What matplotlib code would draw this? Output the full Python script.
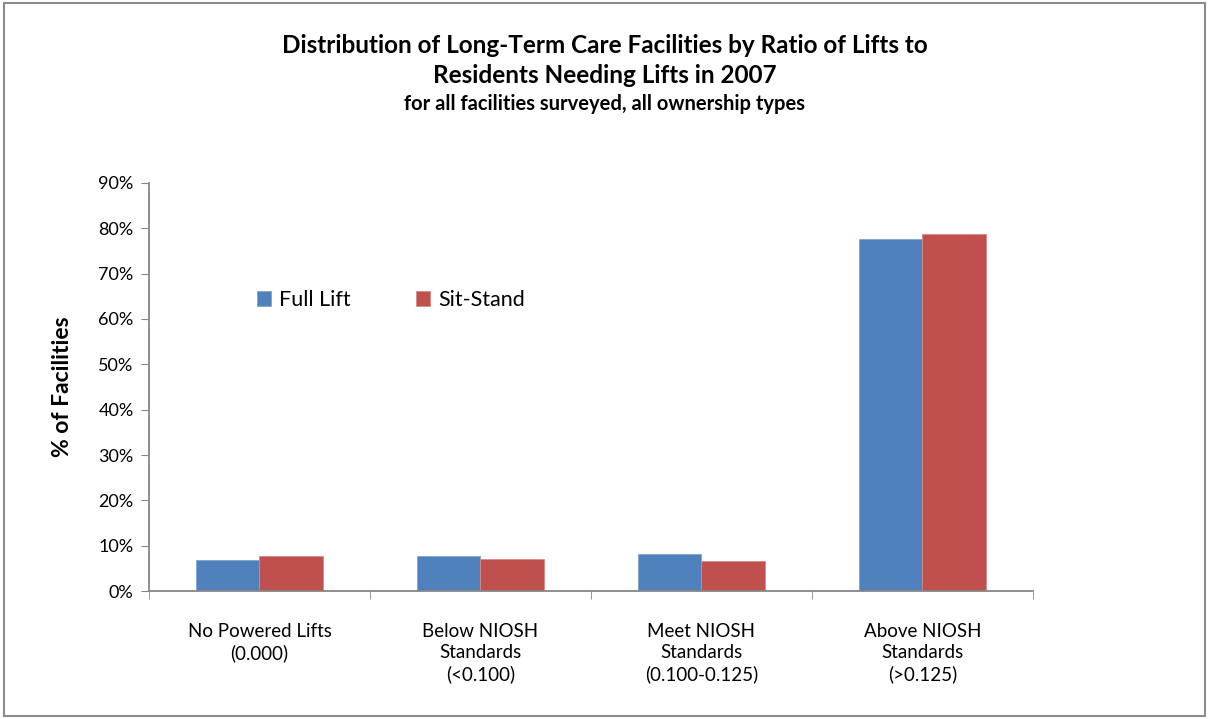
import numpy as np
import matplotlib
matplotlib.use('Agg')
import matplotlib.pyplot as plt
import matplotlib.patches as patches
from matplotlib.ticker import FuncFormatter, FixedLocator

categories = ['No Powered Lifts\n(0.000)', 'Below NIOSH\nStandards\n(<0.100)',
              'Meet NIOSH\nStandards\n(0.100-0.125)', 'Above NIOSH\nStandards\n(>0.125)']
full_lift = [6.8, 7.7, 8.2, 77.6]
sit_stand = [7.7, 7.1, 6.6, 78.7]

plt.rcParams['font.family'] = ['Lato', 'DejaVu Sans']

fig = plt.figure(figsize=(12.09, 7.19), dpi=100)
ax = fig.add_axes([0.1232, 0.178, 0.7312, 0.5675])

x = np.arange(len(categories))
w = 0.2857
ax.bar(x - w/2, full_lift, w, color='#4F81BD', edgecolor='#7FA3D0', linewidth=0.6, label='Full Lift')
ax.bar(x + w/2, sit_stand, w, color='#C0504D', edgecolor='#D68A88', linewidth=0.6, label='Sit-Stand')

ax.set_xlim(-0.5, len(categories) - 0.5)
ax.set_ylim(0, 90)
ax.set_yticks(np.arange(0, 91, 10))
ax.yaxis.set_major_formatter(FuncFormatter(lambda v, p: '%d%%' % v))
ax.set_xticks(x)
ax.set_xticklabels(categories, fontsize=13.5, linespacing=1.3)
ax.xaxis.set_minor_locator(FixedLocator(np.arange(-0.5, len(categories), 1.0)))
ax.tick_params(axis='x', which='major', length=0, pad=23)
ax.tick_params(axis='x', which='minor', length=6, color='#868686', direction='out')
ax.tick_params(axis='y', length=6, color='#868686', labelsize=13, pad=5)

for s in ['top', 'right']:
    ax.spines[s].set_visible(False)
for s in ['left', 'bottom']:
    ax.spines[s].set_color('#868686')
    ax.spines[s].set_linewidth(1.3)

ax.set_ylabel('% of Facilities', fontsize=16.5, fontweight='bold', labelpad=18)

ax.legend(loc='upper left', bbox_to_anchor=(0.1, 0.785), ncol=2, frameon=False,
          fontsize=15.5, handlelength=0.65, handleheight=0.65, handletextpad=0.4, columnspacing=3.0)

fig.text(0.5, 0.937, 'Distribution of Long-Term Care Facilities by Ratio of Lifts to',
         ha='center', va='center', fontsize=17.5, fontweight='bold')
fig.text(0.5, 0.895, 'Residents Needing Lifts in 2007',
         ha='center', va='center', fontsize=17.5, fontweight='bold')
fig.text(0.5, 0.855, 'for all facilities surveyed, all ownership types',
         ha='center', va='center', fontsize=14.5, fontweight='bold')

fig.patches.append(patches.Rectangle((0.003, 0.004), 0.994, 0.992, transform=fig.transFigure,
                                     fill=False, edgecolor='#8C8C8C', linewidth=1.5))

fig.savefig('out.png', dpi=100)
